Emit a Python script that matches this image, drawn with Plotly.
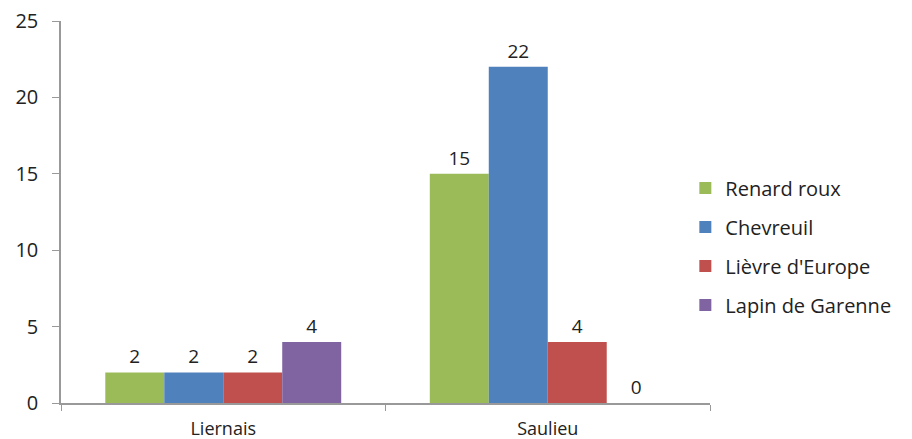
import plotly.graph_objects as go

categories = ["Liernais", "Saulieu"]
series_names = ["Renard roux", "Chevreuil", "Lièvre d'Europe", "Lapin de Garenne"]
renard = [2, 15]
chevreuil = [2, 22]
lievre = [2, 4]
lapin = [4, 0]
colors = ["#9BBB59", "#4F81BD", "#C0504D", "#8064A2"]

fig = go.Figure()
for name, vals, col in zip(series_names, [renard, chevreuil, lievre, lapin], colors):
    fig.add_trace(go.Bar(
        x=categories, y=vals, name=name, marker_color=col, marker_line_width=0,
        text=[str(v) for v in vals], textposition="outside", cliponaxis=False,
        textfont=dict(size=19, color="#222"), legendgroup=name,
    ))

fig.update_layout(
    width=912, height=439,
    margin=dict(l=61, r=202, t=21, b=36),
    barmode="group", bargap=0.273, bargroupgap=0,
    plot_bgcolor="white", paper_bgcolor="white",
    font=dict(family="Open Sans, sans-serif", size=20, color="#222"),
    legend=dict(x=0.962, xanchor="left", y=0.41, yanchor="middle",
                font=dict(size=20), tracegroupgap=10, itemwidth=30),
    xaxis=dict(showline=True, linecolor="#999", linewidth=1.5, ticks="outside",
               tickson="boundaries", ticklen=6, tickcolor="#999",
               tickfont=dict(size=18), ticklabelstandoff=9, automargin=False),
    yaxis=dict(range=[0, 25], dtick=5, showgrid=False, showline=True,
               linecolor="#999", linewidth=1.5, ticks="outside", ticklen=7,
               tickcolor="#999", zeroline=False, tickfont=dict(size=20),
               ticklabelstandoff=10, automargin=False),
)
fig.write_html("out.html")
